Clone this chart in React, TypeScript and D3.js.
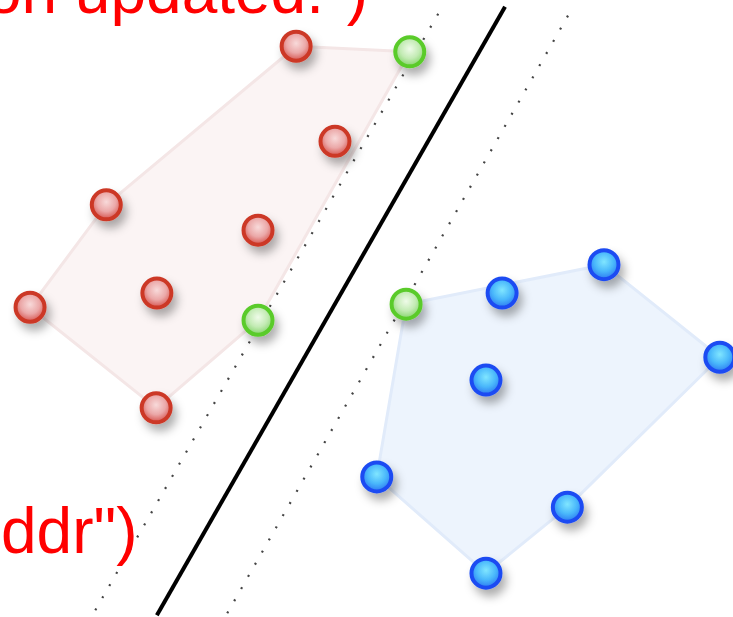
import React from "react";
import * as d3 from "d3";

const W = 733;
const H = 617;

// data coordinates (x: 0..100, y: 0..100)
const redPoints: [number, number][] = [
  [40.4, 92.5],
  [45.7, 77.1],
  [14.5, 66.8],
  [35.2, 62.7],
  [4.1, 50.2],
  [21.4, 52.5],
  [21.3, 33.9],
];
const redSupport: [number, number][] = [
  [55.9, 91.6],
  [35.2, 48.1],
];
const bluePoints: [number, number][] = [
  [68.5, 52.5],
  [82.4, 57.1],
  [98.2, 42.1],
  [66.3, 38.4],
  [51.4, 22.7],
  [77.4, 17.8],
  [66.3, 7.1],
];
const blueSupport: [number, number][] = [[55.4, 50.7]];

const boundaryLine: [number, number][] = [
  [21.4, 0.3],
  [68.9, 98.9],
];
const marginRed: [number, number][] = [
  [13.0, 1.1],
  [59.8, 97.8],
];
const marginBlue: [number, number][] = [
  [31.0, 0.6],
  [77.6, 97.7],
];

const topText = 'on updated.")';
const bottomText = 'ddr")';

export default function App() {
  const x = d3.scaleLinear().domain([0, 100]).range([0, W]);
  const y = d3.scaleLinear().domain([0, 100]).range([H, 0]);
  const line = d3
    .line<[number, number]>()
    .x((d) => x(d[0]))
    .y((d) => y(d[1]));

  const redAll = [...redPoints, ...redSupport];
  const blueAll = [...bluePoints, ...blueSupport];
  const redHull = d3.polygonHull(redAll.map((p) => [x(p[0]), y(p[1])] as [number, number]))!;
  const blueHull = d3.polygonHull(blueAll.map((p) => [x(p[0]), y(p[1])] as [number, number]))!;
  const hullPath = (h: [number, number][]) => "M" + h.map((p) => p.join(",")).join("L") + "Z";

  const R = 14.5;
  const dot = (p: [number, number], cls: string, i: number) => (
    <circle
      key={cls + i}
      cx={x(p[0])}
      cy={y(p[1])}
      r={R}
      fill={`url(#grad-${cls})`}
      stroke={cls === "red" ? "#cc3826" : cls === "blue" ? "#1c4cf2" : "#5acb2a"}
      strokeWidth={4}
      filter="url(#shadow)"
    />
  );

  return (
    <svg
      width={W}
      height={H}
      style={{ position: "absolute", left: 0, top: 0, background: "#fff" }}
      fontFamily="'Liberation Sans', Arial, sans-serif"
    >
      <defs>
        <filter id="shadow" x="-80%" y="-80%" width="280%" height="280%">
          <feDropShadow dx="4" dy="7" stdDeviation="5" floodColor="#000" floodOpacity="0.32" />
        </filter>
        <radialGradient id="grad-red" cx="50%" cy="40%" r="60%">
          <stop offset="0%" stopColor="#f8dada" />
          <stop offset="55%" stopColor="#eba8a8" />
          <stop offset="100%" stopColor="#d6524c" />
        </radialGradient>
        <radialGradient id="grad-blue" cx="50%" cy="40%" r="60%">
          <stop offset="0%" stopColor="#80e6ff" />
          <stop offset="55%" stopColor="#4ab8fb" />
          <stop offset="100%" stopColor="#2c78f2" />
        </radialGradient>
        <radialGradient id="grad-green" cx="50%" cy="40%" r="60%">
          <stop offset="0%" stopColor="#effbe9" />
          <stop offset="55%" stopColor="#c3ebb4" />
          <stop offset="100%" stopColor="#84d46a" />
        </radialGradient>
      </defs>

      <path d={hullPath(redHull)} fill="#fbf4f4" stroke="#f4e6e6" strokeWidth={3} strokeLinejoin="round" />
      <path d={hullPath(blueHull)} fill="#edf4fd" stroke="#e1ebfa" strokeWidth={3} strokeLinejoin="round" />

      <path d={line(marginRed)!} stroke="#444" strokeWidth={2.2} strokeDasharray="2,12" fill="none" />
      <path d={line(marginBlue)!} stroke="#444" strokeWidth={2.2} strokeDasharray="2,12" fill="none" />
      <path d={line(boundaryLine)!} stroke="#000" strokeWidth={4} fill="none" />

      {redPoints.map((p, i) => dot(p, "red", i))}
      {bluePoints.map((p, i) => dot(p, "blue", i))}
      {redSupport.map((p, i) => dot(p, "green", i))}
      {blueSupport.map((p, i) => dot(p, "green", 10 + i))}

      <text x={368} y={13} textAnchor="end" fontSize={64} fill="#ff0000">
        {topText}
      </text>
      <text x={1} y={553} textAnchor="start" fontSize={64} fill="#ff0000">
        {bottomText}
      </text>
    </svg>
  );
}
